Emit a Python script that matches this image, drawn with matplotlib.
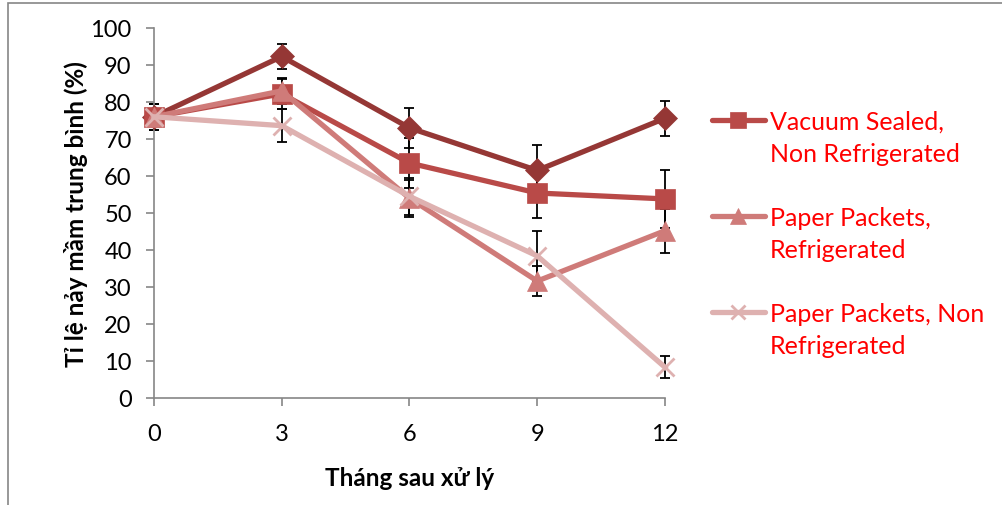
import matplotlib.pyplot as plt
from matplotlib.lines import Line2D
from matplotlib.patches import Rectangle

plt.rcParams['font.family'] = ['Lato', 'DejaVu Sans']

# === dữ liệu ===
months = [0, 3, 6, 9, 12]
month_labels = ["0", "3", "6", "9", "12"]

vac_ref = [76, 92.3, 73, 61.5, 75.6]
vac_ref_err = [3.5, 3.5, 5.4, 7, 4.7]

vac_nonref = [76, 82.2, 63.5, 55.4, 53.8]
vac_nonref_err = [3.5, 4, 6.8, 6.7, 7.9]

paper_ref = [76, 83, 54, 31.6, 45.2]
paper_ref_err = [3.5, 3.5, 5, 4, 6]

paper_nonref = [76, 73.6, 54.5, 38.4, 8.3]
paper_nonref_err = [3.5, 4.5, 5, 6.7, 3]

series = [
    (vac_ref, vac_ref_err, "#953735", "D", 12, None),
    (vac_nonref, vac_nonref_err, "#B94A48", "s", 14, "Vacuum Sealed,\nNon Refrigerated"),
    (paper_ref, paper_ref_err, "#CF7B79", "^", 15, "Paper Packets,\nRefrigerated"),
    (paper_nonref, paper_nonref_err, "#DEB1B0", "x", 13, "Paper Packets, Non\nRefrigerated"),
]

fig = plt.figure(figsize=(10.03, 5.06), dpi=100)
ax = fig.add_axes([0.1535, 0.2115, 0.5095, 0.7312])

handles = []
labels = []
for vals, errs, color, marker, ms, label in series:
    ax.errorbar(months, vals, yerr=errs, fmt="none", ecolor="black",
                elinewidth=1.3, capsize=3.6, capthick=1.3, zorder=2, clip_on=False)
    ax.plot(months, vals, color=color, lw=3.8, marker=marker, markersize=ms,
            markeredgewidth=2 if marker == "x" else 0.5, markeredgecolor=color,
            zorder=3, clip_on=False)
    if label is not None:
        first, second = label.split("\n")
        h = Line2D([], [], color=color, lw=3.8, marker=marker,
                   markersize=ms * 0.8, markeredgewidth=2 if marker == "x" else 0.5,
                   solid_capstyle="round")
        blank = Line2D([], [], linestyle="none")
        handles += [h, blank, blank]
        labels += [first, second, "Rg"]

handles = handles[:-1]
labels = labels[:-1]

ax.set_xlim(0, 12)
ax.set_ylim(0, 100)
ax.set_xticks(months)
ax.set_xticklabels(month_labels)
ax.set_yticks(range(0, 101, 10))

for side in ["top", "right"]:
    ax.spines[side].set_visible(False)
for side in ["left", "bottom"]:
    ax.spines[side].set_color("#868686")
    ax.spines[side].set_linewidth(1.2)
ax.tick_params(axis="both", colors="#868686", labelcolor="black",
               labelsize=17, length=6, width=1.2)
ax.tick_params(axis="x", pad=12)
ax.tick_params(axis="y", pad=10)

ax.set_xlabel("Tháng sau xử lý", fontsize=17.5, fontweight="bold", labelpad=16)
ax.set_ylabel("Tỉ lệ nảy mầm trung bình (%)", fontsize=17.5, fontweight="bold", labelpad=2)

leg = fig.legend(handles, labels, loc="upper left",
                 bbox_to_anchor=(0.700, 0.801), frameon=False,
                 fontsize=18, handlelength=2.1, handletextpad=0.2,
                 labelspacing=0.36, borderaxespad=0)
for t in leg.get_texts():
    t.set_color("#FF0000")
# các dòng trống giữa các mục chú thích
for t in leg.get_texts()[2::3]:
    t.set_alpha(0)

# khung viền của biểu đồ
fig.patches.append(Rectangle((0.008, -0.05), 1.1, 1.042, transform=fig.transFigure,
                             fill=False, edgecolor="#868686", lw=1.2))

fig.savefig("out.png", dpi=100)
